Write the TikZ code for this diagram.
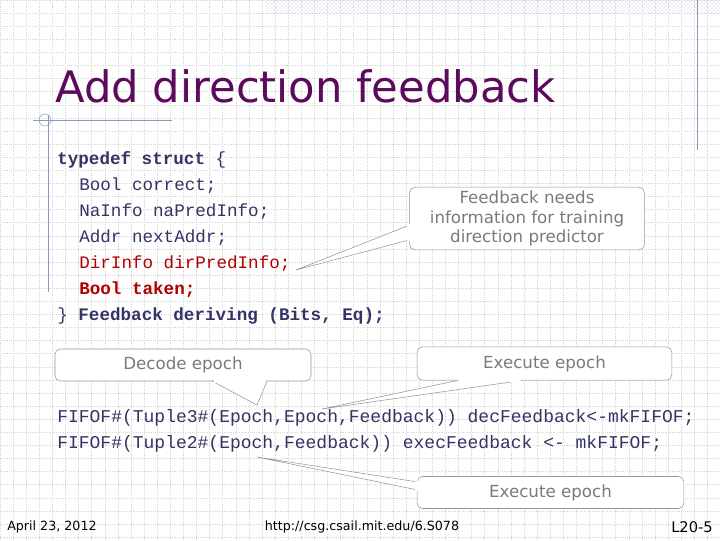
\documentclass[tikz,border=0pt]{standalone}
\usepackage{fontspec}
\setmainfont{DejaVu Sans}
\newfontfamily\codefont{Liberation Mono}
\usetikzlibrary{positioning,patterns}
\definecolor{titlecol}{HTML}{5C0A5C}
\definecolor{codecol}{HTML}{333366}
\definecolor{redcol}{HTML}{B00000}
\definecolor{notecol}{HTML}{7A7A7A}
\definecolor{rulecol}{HTML}{8899BB}
\tikzset{
  code/.style={anchor=west, inner sep=0pt, text=codecol, font=\codefont\fontsize{13.2}{15}\selectfont},
  fifo/.style={anchor=west, inner sep=0pt, text=codecol, font=\codefont\fontsize{13.5}{15}\selectfont},
  note/.style={draw=notecol!80, rounded corners=4pt, fill=white, text=notecol, align=center,
    font=\fontsize{12.5}{14.5}\selectfont, inner sep=0pt},
  tip/.style={draw=notecol!80, fill=white},
  foot/.style={inner sep=0pt, text=black, font=\fontsize{9.5}{11}\selectfont}
}
\begin{document}
\begin{tikzpicture}[x=0.75pt, y=-0.75pt]
    \useasboundingbox (0,0) rectangle (720,540);
    % background
    \draw[gray!30, densely dotted, step=9.825pt] (0,0) grid (720,540);
    \fill[pattern=crosshatch dots, pattern color=rulecol!60] (265,0) rectangle (720,13);
    \draw[rulecol] (697,0) -- (697,150);
    \draw[rulecol] (33,120) -- (172,120);
    \draw[rulecol] (48,115) -- (48,292);
    \draw[rulecol] (45,120) circle (6);
    % title
    \node[anchor=west, inner sep=0pt, text=titlecol, font=\fontsize{32.5}{36}\selectfont] (title) at (55,86) {Add direction feedback};
    % struct
    \node[code] (l1) at (57,160) {\bfseries typedef struct \mdseries\{};
    \node[code] (l2) at (79,186) {Bool correct;};
    \node[code] (l3) at (79,212) {NaInfo naPredInfo;};
    \node[code] (l4) at (79,238) {Addr nextAddr;};
    \node[code, text=redcol] (l5) at (79,264) {DirInfo dirPredInfo;};
    \node[code, text=redcol] (l6) at (79,290) {\bfseries Bool taken;};
    \node[code] (l7) at (57,316) {\} \bfseries Feedback deriving (Bits, Eq);};
    % fifos
    \node[fifo] (f1) at (57,418) {FIFOF\#(Tuple3\#(Epoch,Epoch,Feedback)) decFeedback<-mkFIFOF;};
    \node[fifo] (f2) at (57,444) {FIFOF\#(Tuple2\#(Epoch,Feedback)) execFeedback <- mkFIFOF;};
    % callouts
    \node[note, minimum width=176pt, minimum height=47pt] (fb) at (527,218.5) {Feedback needs\\information for training\\direction predictor};
    \coordinate (fbtip) at (296,270);
    \filldraw[tip] ([yshift=-5pt]fb.west) -- (fbtip) -- ([yshift=-16pt]fb.west);
    \fill[white] ([xshift=1pt,yshift=-4pt]fb.west) rectangle ([xshift=-1.5pt,yshift=-17pt]fb.west);

    \node[note, minimum width=192pt, minimum height=24pt] (dec) at (183,365) {Decode epoch};
    \coordinate (dectip) at (257,405);
    \filldraw[tip] ([xshift=22pt]dec.south) -- (dectip) -- ([xshift=63pt]dec.south);
    \fill[white] ([xshift=23pt,yshift=1.5pt]dec.south) rectangle ([xshift=62pt,yshift=-1pt]dec.south);

    \node[note, minimum width=191pt, minimum height=25pt] (ex1) at (544.5,363.5) {Execute epoch};
    \coordinate (ex1tip) at (322,409);
    \filldraw[tip] ([xshift=-65pt]ex1.south) -- (ex1tip) -- ([xshift=-17pt]ex1.south);
    \fill[white] ([xshift=-64pt,yshift=1.5pt]ex1.south) rectangle ([xshift=-18pt,yshift=-1pt]ex1.south);

    \node[note, minimum width=200pt, minimum height=24pt] (ex2) at (550.5,492.5) {Execute epoch};
    \coordinate (ex2tip) at (257,457);
    \filldraw[tip] ([yshift=8pt]ex2.west) -- (ex2tip) -- ([yshift=2pt]ex2.west);
    \fill[white] ([xshift=1pt,yshift=9pt]ex2.west) rectangle ([xshift=-1.5pt,yshift=1pt]ex2.west);
    % footer
    \node[foot, anchor=west] (date) at (7,527) {April 23, 2012};
    \node[foot] (url) at (362,527) {http://csg.csail.mit.edu/6.S078};
    \node[foot, font=\fontsize{11}{13}\selectfont, anchor=east] (page) at (713,527) {L20-5};
\end{tikzpicture}
\end{document}
